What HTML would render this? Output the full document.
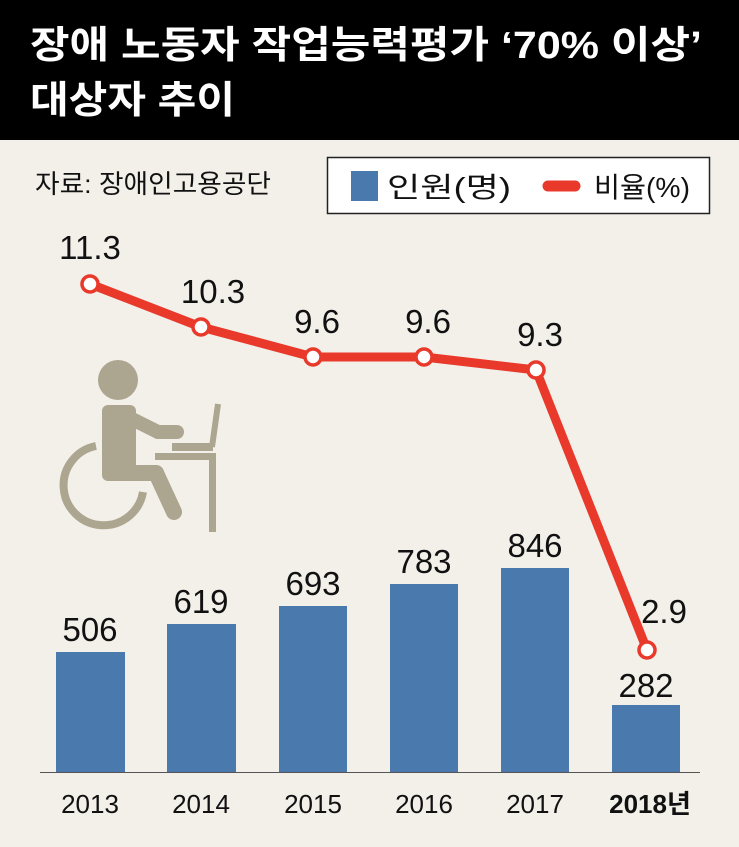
<!DOCTYPE html>
<html><head><meta charset="utf-8"><style>
body{margin:0;width:739px;height:842px;overflow:hidden;background:#f3f0ea;font-family:"Liberation Sans","Noto Sans CJK KR",sans-serif}
</style></head><body>
<svg width="739" height="842" xmlns="http://www.w3.org/2000/svg" style="font-family:'Liberation Sans','Noto Sans CJK KR',sans-serif">
<rect x="0" y="0" width="739" height="140" fill="#000"/>
<text x="30" y="58" fill="#fff" font-size="38" font-weight="bold" textLength="672" lengthAdjust="spacingAndGlyphs">장애 노동자 작업능력평가 ‘70% 이상’</text>
<text x="30" y="113" fill="#fff" font-size="38" font-weight="bold" textLength="205" lengthAdjust="spacingAndGlyphs">대상자 추이</text>
<text x="35" y="193" font-size="26" fill="#111" textLength="236" lengthAdjust="spacingAndGlyphs">자료: 장애인고용공단</text>
<rect x="327.5" y="157.5" width="382" height="56" fill="#fff" stroke="#222" stroke-width="1.5"/>
<rect x="351" y="171" width="27" height="30" fill="#4a79ad"/>
<text x="387" y="197" font-size="28" fill="#111" textLength="124" lengthAdjust="spacingAndGlyphs">인원(명)</text>
<line x1="548" y1="186" x2="575" y2="186" stroke="#e8392b" stroke-width="11" stroke-linecap="round"/>
<text x="594" y="197" font-size="28" fill="#111" textLength="96" lengthAdjust="spacingAndGlyphs">비율(%)</text>
<g fill="#aca58f" stroke="#aca58f">
<circle cx="118" cy="380" r="20" stroke="none"/>
<rect x="102" y="405" width="34" height="76" rx="6" stroke="none"/>
<line x1="130" y1="418" x2="158" y2="432" stroke-width="14" stroke-linecap="round"/>
<line x1="158" y1="432" x2="177" y2="432" stroke-width="14" stroke-linecap="round"/>
<line x1="120" y1="473" x2="156" y2="473" stroke-width="16" stroke-linecap="round"/>
<line x1="156" y1="473" x2="174" y2="512" stroke-width="16" stroke-linecap="round"/>
<rect x="172" y="443" width="41" height="8" stroke="none"/>
<line x1="212" y1="447" x2="218" y2="404" stroke-width="6"/>
<rect x="155" y="453" width="61" height="7" stroke="none"/>
<rect x="209" y="453" width="7" height="79" stroke="none"/>
<path d="M96 446 A40 40 0 1 0 143 492" fill="none" stroke-width="8"/>
</g>
<g fill="#4a79ad">
<rect x="56" y="652" width="69" height="120"/>
<rect x="167" y="624" width="69" height="148"/>
<rect x="279" y="606" width="68" height="166"/>
<rect x="390" y="584" width="68" height="188"/>
<rect x="501" y="568" width="68" height="204"/>
<rect x="612" y="705" width="68" height="67"/>
</g>
<line x1="40" y1="772.5" x2="700" y2="772.5" stroke="#555" stroke-width="1"/>
<g font-size="33" fill="#111" text-anchor="middle">
<text x="90" y="641">506</text><text x="201" y="613">619</text><text x="313" y="595">693</text>
<text x="424" y="573">783</text><text x="535" y="557">846</text><text x="646" y="697">282</text>
<text x="90" y="259">11.3</text><text x="213" y="303">10.3</text><text x="317" y="333">9.6</text>
<text x="428" y="333">9.6</text><text x="540" y="346">9.3</text><text x="664" y="623">2.9</text>
</g>
<polyline points="90,284 201,327 313,357 424,357 536,370 647,650" fill="none" stroke="#e8392b" stroke-width="9" stroke-linejoin="round"/>
<g fill="#fff" stroke="#e8392b" stroke-width="3.5">
<circle cx="90" cy="284" r="8"/><circle cx="201" cy="327" r="8"/><circle cx="313" cy="357" r="8"/>
<circle cx="424" cy="357" r="8"/><circle cx="536" cy="370" r="8"/><circle cx="647" cy="650" r="8"/>
</g>
<g font-size="26" fill="#111" text-anchor="middle">
<text x="90" y="813">2013</text><text x="201" y="813">2014</text><text x="313" y="813">2015</text>
<text x="424" y="813">2016</text><text x="535" y="813">2017</text>
<text x="650" y="813" font-weight="bold">2018년</text>
</g>
</svg>
</body></html>
